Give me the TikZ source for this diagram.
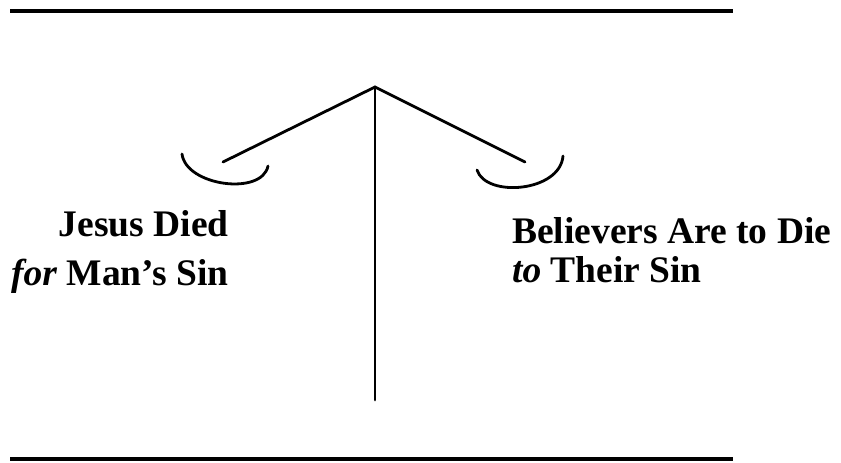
\documentclass[tikz,border=0pt]{standalone}
\usepackage{fontspec}
\setmainfont{Liberation Serif}
\begin{document}
\begin{tikzpicture}[x=1pt,y=-1pt,
  rule/.style={line width=3.5pt},
  beam/.style={line width=2.8pt, line cap=round},
  lbl/.style={font=\bfseries\fontsize{37.5}{40}\selectfont, inner sep=0pt, anchor=base west}]
\useasboundingbox (0,0) rectangle (841,463);
% rules
\coordinate (t1) at (10,11); \coordinate (t2) at (733,11);
\coordinate (b1) at (10,459); \coordinate (b2) at (733,459);
\draw[rule] (t1) -- (t2);
\draw[rule] (b1) -- (b2);
% scale
\coordinate (apex) at (375,87);
\coordinate (foot) at (375,400);
\coordinate (la) at (223,162);
\coordinate (ra) at (525,162);
\draw[beam] (apex) -- (foot);
\draw[beam] (la) -- (apex) -- (ra);
% pans
\draw[beam] (182,154) .. controls (186,186) and (262,196) .. (268,166);
\draw[beam] (477,170) .. controls (486,198) and (560,192) .. (563,156);
% labels
\node[lbl, anchor=base east] (l1) at (229,236) {Jesus Died};
\node[lbl, anchor=base east] (l2) at (229,285) {\textit{for} Man’s Sin};
\node[lbl] (r1) at (512,243) {Believers Are to Die};
\node[lbl] (r2) at (512,282) {\textit{to} Their Sin};
\end{tikzpicture}
\end{document}
